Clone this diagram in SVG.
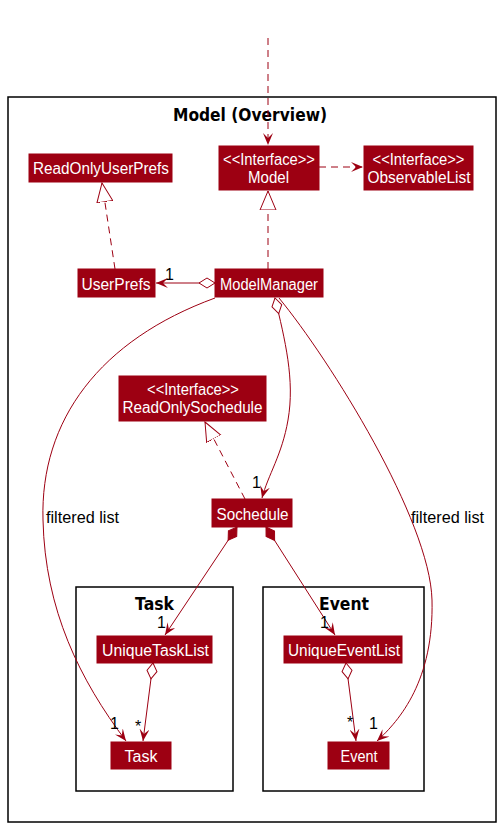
<svg xmlns="http://www.w3.org/2000/svg" width="501" height="827" viewBox="0 0 501 827">
<style>
.cls{fill:#9D0012;stroke:#9D0012;stroke-width:1}
.ct{fill:#ffffff;font-family:"Liberation Sans",Arial,sans-serif;font-size:16px;text-anchor:middle}
.pkg{fill:none;stroke:#000;stroke-width:1.5}
.pt{fill:#000;font-family:"DejaVu Sans",sans-serif;font-size:17px;font-weight:bold;text-anchor:middle}
.ln{fill:none;stroke:#9D0012;stroke-width:1}
.dash{stroke-dasharray:7,5}
.lbl{fill:#000;font-family:"Liberation Sans",Arial,sans-serif;font-size:16px}
</style>
<defs>
<marker id="arr" viewBox="0 0 12 10" refX="12" refY="5" markerWidth="12" markerHeight="10" markerUnits="userSpaceOnUse" orient="auto">
<path d="M0,0 L12,5 L0,10 L5,5 Z" fill="#9D0012"/>
</marker>
<marker id="tri" viewBox="0 0 20 18" refX="19" refY="9" markerWidth="20" markerHeight="18" markerUnits="userSpaceOnUse" orient="auto">
<path d="M0,1 L19,9 L0,17 Z" fill="#fff" stroke="#9D0012" stroke-width="1"/>
</marker>
<marker id="agg" viewBox="-1 -1 18 12" refX="0" refY="5" markerWidth="18" markerHeight="12" markerUnits="userSpaceOnUse" orient="auto">
<path d="M0,5 L8,0 L16,5 L8,10 Z" fill="#fff" stroke="#9D0012" stroke-width="1"/>
</marker>
<marker id="comp" viewBox="-1 -1 18 12" refX="0" refY="5" markerWidth="18" markerHeight="12" markerUnits="userSpaceOnUse" orient="auto">
<path d="M0,5 L8,0 L16,5 L8,10 Z" fill="#9D0012" stroke="#9D0012" stroke-width="1"/>
</marker>
</defs>
<rect fill="#ffffff" x="0" y="0" width="501" height="827"/>

<g id="pkg-model">
<rect class="pkg" x="8" y="97" width="488" height="725"/>
<text class="pt" x="250" y="121" textLength="154" lengthAdjust="spacingAndGlyphs">Model (Overview)</text>
</g>
<g id="pkg-task">
<rect class="pkg" x="76" y="587" width="157" height="204"/>
<text class="pt" x="154.5" y="610" textLength="39" lengthAdjust="spacingAndGlyphs">Task</text>
</g>
<g id="pkg-event">
<rect class="pkg" x="263" y="587" width="161" height="204"/>
<text class="pt" x="344" y="610" textLength="50" lengthAdjust="spacingAndGlyphs">Event</text>
</g>

<g id="connectors">
<path class="ln dash" d="M268,38 L268,145" marker-end="url(#arr)"/>
<path class="ln dash" d="M319,167 L363,167" marker-end="url(#arr)"/>
<path class="ln dash" d="M115,269 L102,183" marker-end="url(#tri)"/>
<path class="ln dash" d="M268,269 L268,191" marker-end="url(#tri)"/>
<path class="ln dash" d="M245,499 L205,422" marker-end="url(#tri)"/>
<path class="ln" d="M215,283 L156,283" marker-start="url(#agg)" marker-end="url(#arr)"/>
<path class="ln" d="M275,298 C285,340 295,380 288,420 C282,455 268,475 262,498" marker-start="url(#agg)" marker-end="url(#arr)"/>
<path class="ln" d="M215,298 C100,340 40,420 43,520 C45,610 80,680 126,741" marker-end="url(#arr)"/>
<path class="ln" d="M279,298 C330,360 430,520 432,600 C434,680 400,720 377,741" marker-end="url(#arr)"/>
<path class="ln" d="M237,527 L165,635" marker-start="url(#comp)" marker-end="url(#arr)"/>
<path class="ln" d="M266,527 L335,635" marker-start="url(#comp)" marker-end="url(#arr)"/>
<path class="ln" d="M153,663 L143,741" marker-start="url(#agg)" marker-end="url(#arr)"/>
<path class="ln" d="M346,663 L356,741" marker-start="url(#agg)" marker-end="url(#arr)"/>
<text class="lbl" x="165" y="280">1</text>
<text class="lbl" x="252" y="488">1</text>
<text class="lbl" x="46" y="523" textLength="73" lengthAdjust="spacingAndGlyphs">filtered list</text>
<text class="lbl" x="411" y="523" textLength="73" lengthAdjust="spacingAndGlyphs">filtered list</text>
<text class="lbl" x="157" y="628">1</text>
<text class="lbl" x="320" y="628">1</text>
<text class="lbl" x="110" y="729">1</text>
<text class="lbl" x="135" y="732">*</text>
<text class="lbl" x="347" y="728">*</text>
<text class="lbl" x="369" y="729">1</text>
</g>

<g id="ReadOnlyUserPrefs">
<rect class="cls" x="29" y="154" width="143" height="28"/>
<text class="ct" x="101" y="174" textLength="136" lengthAdjust="spacingAndGlyphs">ReadOnlyUserPrefs</text>
</g>
<g id="Model">
<rect class="cls" x="219" y="146" width="100" height="44"/>
<text class="ct" x="269" y="165" textLength="92" lengthAdjust="spacingAndGlyphs">&lt;&lt;Interface&gt;&gt;</text>
<text class="ct" x="268.5" y="183" textLength="41" lengthAdjust="spacingAndGlyphs">Model</text>
</g>
<g id="ObservableList">
<rect class="cls" x="364" y="146" width="109" height="44"/>
<text class="ct" x="418.5" y="165" textLength="92" lengthAdjust="spacingAndGlyphs">&lt;&lt;Interface&gt;&gt;</text>
<text class="ct" x="419" y="183" textLength="103" lengthAdjust="spacingAndGlyphs">ObservableList</text>
</g>
<g id="UserPrefs">
<rect class="cls" x="78" y="269" width="77" height="28"/>
<text class="ct" x="116" y="290" textLength="69" lengthAdjust="spacingAndGlyphs">UserPrefs</text>
</g>
<g id="ModelManager">
<rect class="cls" x="215" y="269" width="108" height="28"/>
<text class="ct" x="269" y="290" textLength="98" lengthAdjust="spacingAndGlyphs">ModelManager</text>
</g>
<g id="ReadOnlySochedule">
<rect class="cls" x="119" y="376" width="147" height="45"/>
<text class="ct" x="193" y="395" textLength="92" lengthAdjust="spacingAndGlyphs">&lt;&lt;Interface&gt;&gt;</text>
<text class="ct" x="192.5" y="413" textLength="140" lengthAdjust="spacingAndGlyphs">ReadOnlySochedule</text>
</g>
<g id="Sochedule">
<rect class="cls" x="212" y="499" width="80" height="28"/>
<text class="ct" x="252.5" y="520" textLength="72" lengthAdjust="spacingAndGlyphs">Sochedule</text>
</g>
<g id="UniqueTaskList">
<rect class="cls" x="97" y="636" width="115" height="27"/>
<text class="ct" x="155.5" y="656" textLength="107" lengthAdjust="spacingAndGlyphs">UniqueTaskList</text>
</g>
<g id="Task">
<rect class="cls" x="111" y="742" width="60" height="27"/>
<text class="ct" x="141" y="762" textLength="33" lengthAdjust="spacingAndGlyphs">Task</text>
</g>
<g id="UniqueEventList">
<rect class="cls" x="284" y="636" width="118" height="27"/>
<text class="ct" x="344" y="656" textLength="112" lengthAdjust="spacingAndGlyphs">UniqueEventList</text>
</g>
<g id="Event">
<rect class="cls" x="328" y="742" width="61" height="27"/>
<text class="ct" x="359" y="762" textLength="37" lengthAdjust="spacingAndGlyphs">Event</text>
</g>
</svg>
